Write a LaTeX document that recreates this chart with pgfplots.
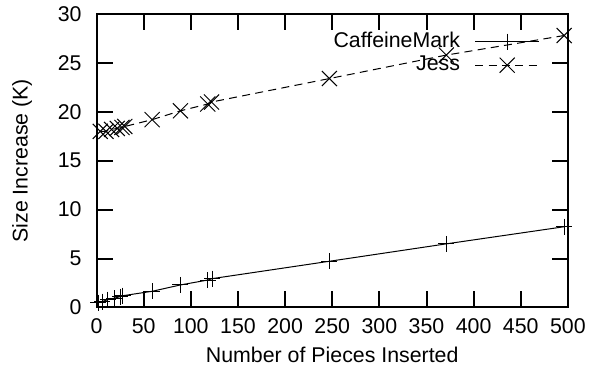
\documentclass[border=0pt]{standalone}
\usepackage{pgfplots}
\pgfplotsset{compat=1.18}
\usepackage{fontspec}
\setmainfont{Liberation Sans}
\begin{document}
\fontsize{16}{19}\selectfont
\begin{tikzpicture}
\path[use as bounding box] (-72.4pt,-48.4pt) rectangle (378.4pt,230.6pt);
\begin{axis}[
  at={(0,0)}, anchor=south west,
  scale only axis, width=353.6pt, height=220.1pt,
  xmin=0, xmax=500, ymin=0, ymax=30,
  xtick={0,50,...,500}, ytick={0,5,...,30},
  tick pos=both, tick align=inside,
  major tick length=12pt,
  every tick/.style={line width=1.5pt, black},
  axis line style={line width=1.5pt},
  /pgf/number format/assume math mode=true,
  tick label style={font=\fontsize{16}{19}\selectfont},
  label style={font=\fontsize{16}{19}\selectfont},
  xticklabel shift=2.7pt, yticklabel shift=5.7pt,
  xlabel={Number of Pieces Inserted},
  ylabel={Size Increase (K)},
  xlabel style={at={(axis description cs:0.5,-0.162)}, anchor=center},
  ylabel style={at={(axis description cs:-0.158,0.5)}, anchor=center, rotate=0},
  legend plot pos=right,
  legend cell align=right,
  legend image code/.code={\draw[mark repeat=2,mark phase=2,#1] plot coordinates {(0pt,0pt) (24pt,0pt) (48pt,0pt)};},
  legend style={draw=none, fill=none, inner sep=0pt, nodes={inner sep=0pt}, at={(axis description cs:1,1)}, anchor=north east, xshift=-21pt, yshift=-13.5pt, row sep=4pt, column sep=11pt, font=\fontsize{16}{19}\selectfont},
]
\addplot[black, line width=0.75pt, mark=+, mark size=6pt, mark options={solid, line width=0.75pt}] coordinates {
(2,0.5) (6,0.6) (12,0.8) (19,0.95) (25,1.1) (28,1.2) (59,1.65) (89,2.3) (118,2.8) (123,2.95) (247,4.72) (371,6.5) (496,8.25)
};
\addlegendentry{CaffeineMark}
\addplot[black, line width=0.75pt, dash pattern=on 6pt off 4pt, mark=x, mark size=8pt, mark options={solid, line width=0.75pt}] coordinates {
(4,18.0) (10,18.0) (16,18.2) (22,18.3) (27,18.4) (30,18.5) (59,19.2) (89,20.1) (118,20.8) (122,21.0) (247,23.4) (371,25.8) (496,27.8)
};
\addlegendentry{Jess}
\end{axis}
\end{tikzpicture}
\end{document}
